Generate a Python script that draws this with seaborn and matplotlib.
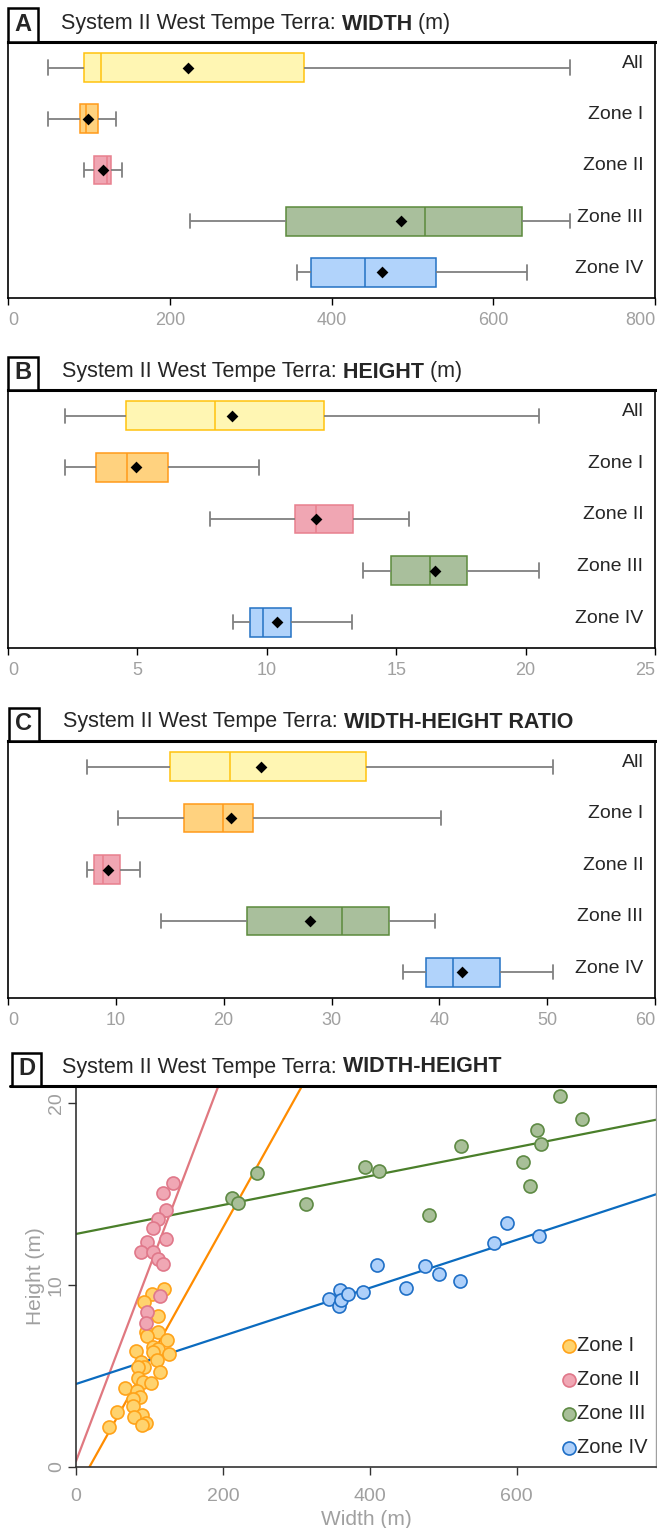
import matplotlib
matplotlib.use("Agg")
import matplotlib.pyplot as plt
from matplotlib.patches import Rectangle
from matplotlib.lines import Line2D
import pandas as pd
import seaborn as sns

zones = ["All", "Zone I", "Zone II", "Zone III", "Zone IV"]
box_fill = ["#FFF6B3", "#FFD27F", "#F0A6B3", "#A9BF9C", "#B1D3FB"]
box_edge = ["#FFC20E", "#FF9A1A", "#E8808E", "#5B8A3C", "#2372C4"]

width_min = [49, 49, 94, 225, 357]
width_q1 = [94, 89, 106, 344, 375]
width_med = [115, 96, 122, 515, 441]
width_q3 = [366, 111, 127, 635, 529]
width_max = [695, 134, 141, 695, 642]
width_mean = [223, 99, 117, 486, 463]

height_min = [2.2, 2.2, 7.8, 13.7, 8.7]
height_q1 = [4.55, 3.4, 11.1, 14.8, 9.35]
height_med = [8.0, 4.6, 11.9, 16.3, 9.85]
height_q3 = [12.2, 6.2, 13.35, 17.75, 10.95]
height_max = [20.5, 9.7, 15.5, 20.5, 13.3]
height_mean = [8.65, 4.95, 11.9, 16.5, 10.4]

ratio_min = [7.3, 10.2, 7.3, 14.2, 36.6]
ratio_q1 = [15.0, 16.3, 8.0, 22.2, 38.8]
ratio_med = [20.6, 19.9, 8.8, 31.0, 41.3]
ratio_q3 = [33.2, 22.7, 10.4, 35.3, 45.6]
ratio_max = [50.5, 40.2, 12.2, 39.6, 50.5]
ratio_mean = [23.5, 20.7, 9.3, 28.0, 42.1]

# ---- scatter points ----
z1_width = [120, 103, 93, 112, 95, 112, 97, 124, 105, 112, 82, 126, 105, 110, 88, 92,
            84, 115, 85, 91, 102, 67, 83, 87, 77, 78, 56, 90, 79, 96, 90, 45]
z1_height = [9.8, 9.5, 9.1, 8.3, 7.4, 7.4, 7.2, 7.0, 6.6, 6.5, 6.4, 6.2, 6.3, 5.9, 5.8, 5.5,
             5.5, 5.2, 4.9, 4.7, 4.6, 4.35, 4.2, 3.85, 3.75, 3.35, 3.0, 2.85, 2.75, 2.4, 2.3, 2.2]
z2_width = [132, 118, 123, 112, 105, 122, 97, 88, 105, 112, 119, 115, 97, 96]
z2_height = [15.6, 15.06, 14.13, 13.61, 13.12, 12.53, 12.35, 11.8, 11.8, 11.45, 11.17, 9.38, 8.5, 7.9]
z3_width = [212, 220, 247, 313, 394, 413, 481, 524, 609, 618, 628, 634, 659, 689]
z3_height = [14.79, 14.5, 16.15, 14.44, 16.48, 16.26, 13.85, 17.65, 16.75, 15.45, 18.51, 17.78, 20.42, 19.16]
z4_width = [410, 345, 360, 358, 361, 370, 391, 450, 476, 494, 523, 569, 587, 631]
z4_height = [11.1, 9.22, 9.76, 8.86, 9.17, 9.49, 9.65, 9.83, 11.06, 10.59, 10.22, 12.33, 13.43, 12.7]

pt_fill = ["#FFD36E", "#F0A7B4", "#A8BF98", "#AED0FA"]
pt_edge = ["#FFA31A", "#E0788A", "#5E8A44", "#1F6FC6"]
fit_color = ["#FF8C00", "#E07880", "#4A7F2A", "#0B6BBF"]

W, H = 657, 1528
sns.set_style("white")
plt.rcParams["font.family"] = ["Liberation Sans", "DejaVu Sans"]

fig = plt.figure(figsize=(W / 100, H / 100), dpi=100)
renderer = fig.canvas.get_renderer()
GRAY = "#A0A0A0"


def px_rect(l, t, r, b):
    return [l / W, 1 - b / H, (r - l) / W, (b - t) / H]


def letter_box(l, t, r, b, letter):
    fig.add_artist(Rectangle((l / W, 1 - b / H), (r - l) / W, (b - t) / H,
                             transform=fig.transFigure, facecolor="white",
                             edgecolor="black", linewidth=1.8, zorder=10))
    fig.text((l + r) / 2 / W, 1 - (t + b) / 2 / H + 0.0005, letter, ha="center", va="center",
             fontsize=17, fontweight="bold", zorder=11)


def title(x, y, parts, size=15.5):
    x = x / W
    for s, bold in parts:
        t = fig.text(x, 1 - y / H, s, fontsize=size, va="center", ha="left",
                     fontweight="bold" if bold else "normal")
        x = t.get_window_extent(renderer).x1 / W


def box_panel(rect, vmin, q1, med, q3, vmax, mean, xmax, step):
    ax = fig.add_axes(rect)
    for i, z in enumerate(zones):
        d = pd.DataFrame({"value": [vmin[i], q1[i], med[i], q3[i], vmax[i]], "zone": z})
        sns.boxplot(data=d, x="value", y="zone", order=zones, whis=(0, 100), width=0.56,
                    color=box_fill[i], linecolor=box_edge[i], saturation=1, linewidth=1.1,
                    whiskerprops={"color": "#808080", "linewidth": 1.3},
                    capprops={"color": "#808080", "linewidth": 1.3}, ax=ax)
    sns.stripplot(x=mean, y=zones, order=zones, jitter=False, marker="D", color="black",
                  size=6, linewidth=0, zorder=5, ax=ax)
    ax.set_xlim(0, xmax)
    ax.set_ylim(4.5, -0.5)
    ax.set_xticks(range(0, xmax + 1, step))
    ax.set_yticks([])
    ax.set_xlabel("")
    ax.set_ylabel("")
    for i, z in enumerate(zones):
        ax.text(0.982, i - 0.08, z, transform=ax.get_yaxis_transform(), ha="right",
                va="center", fontsize=14)
    for side in ["left", "right", "bottom"]:
        ax.spines[side].set_color("black")
        ax.spines[side].set_linewidth(1.2)
    ax.spines["top"].set_color("black")
    ax.spines["top"].set_linewidth(2.2)
    ax.tick_params(axis="x", bottom=True, direction="out", length=5, width=1,
                   color="black", labelcolor=GRAY, labelsize=13, pad=5)
    labels = ax.get_xticklabels()
    labels[0].set_ha("left")
    labels[-1].set_ha("right")
    return ax


# Panel A
box_panel(px_rect(8, 42, 655, 298), width_min, width_q1, width_med, width_q3, width_max,
          width_mean, 800, 200)
letter_box(8, 8, 38, 42, "A")
title(61, 24, [("System II West Tempe Terra:", False), (" WIDTH", True), (" (m)", False)])

# Panel B
box_panel(px_rect(8, 390, 655, 648), height_min, height_q1, height_med, height_q3, height_max,
          height_mean, 25, 5)
letter_box(8, 357, 38, 390, "B")
title(62, 372, [("System II West Tempe Terra:", False), (" HEIGHT", True), (" (m)", False)])

# Panel C
box_panel(px_rect(8, 741, 655, 998), ratio_min, ratio_q1, ratio_med, ratio_q3, ratio_max,
          ratio_mean, 60, 10)
letter_box(9, 708, 39, 741, "C")
title(63, 722, [("System II West Tempe Terra:", False), (" WIDTH-HEIGHT RATIO", True)])

# Panel D
axd = fig.add_axes(px_rect(76, 1086, 656, 1467))
axd.set_xlim(0, 790)
axd.set_ylim(0, 20.95)
widths = [z1_width, z2_width, z3_width, z4_width]
heights = [z1_height, z2_height, z3_height, z4_height]
for i in range(4):
    sns.regplot(x=widths[i], y=heights[i], scatter=False, ci=None, truncate=False,
                color=fit_color[i], line_kws={"linewidth": 1.6, "zorder": 1}, ax=axd)
for i in range(4):
    sns.scatterplot(x=widths[i], y=heights[i], color=pt_fill[i], edgecolor=pt_edge[i],
                    linewidth=1.2, s=88, label=zones[i + 1], zorder=3, ax=axd)
axd.set_xlim(0, 790)
axd.set_ylim(0, 20.95)
axd.set_xticks([0, 200, 400, 600])
axd.set_yticks([0, 10, 20])
axd.set_xlabel("Width (m)", fontsize=15, color=GRAY, labelpad=4)
axd.set_ylabel("Height (m)", fontsize=15, color=GRAY, labelpad=2)
axd.tick_params(axis="both", bottom=True, left=True, direction="out", length=6, width=1,
                color="#333333", labelcolor=GRAY, labelsize=14)
axd.tick_params(axis="x", pad=9)
axd.tick_params(axis="y", labelrotation=90, pad=2)
for lab in axd.get_yticklabels():
    lab.set_va("center")
for side in ["left", "bottom"]:
    axd.spines[side].set_color("#333333")
    axd.spines[side].set_linewidth(1.2)
axd.spines["right"].set_color("#A0A0A0")
axd.spines["right"].set_linewidth(1.0)
axd.spines["top"].set_color("black")
axd.spines["top"].set_linewidth(2.2)
fig.add_artist(Line2D([10 / W, 76 / W], [1 - 1086 / H, 1 - 1086 / H],
                      transform=fig.transFigure, color="black", linewidth=2.2))
axd.legend(loc="lower right", bbox_to_anchor=(0.985, 0.025), frameon=False, fontsize=14.5,
           handletextpad=0.0, handlelength=0.8, labelspacing=0.75, borderpad=0,
           borderaxespad=0)
letter_box(12, 1053, 41, 1086, "D")
title(62, 1067, [("System II West Tempe Terra:", False), (" WIDTH-HEIGHT", True)])

fig.savefig("out.png", dpi=100)
